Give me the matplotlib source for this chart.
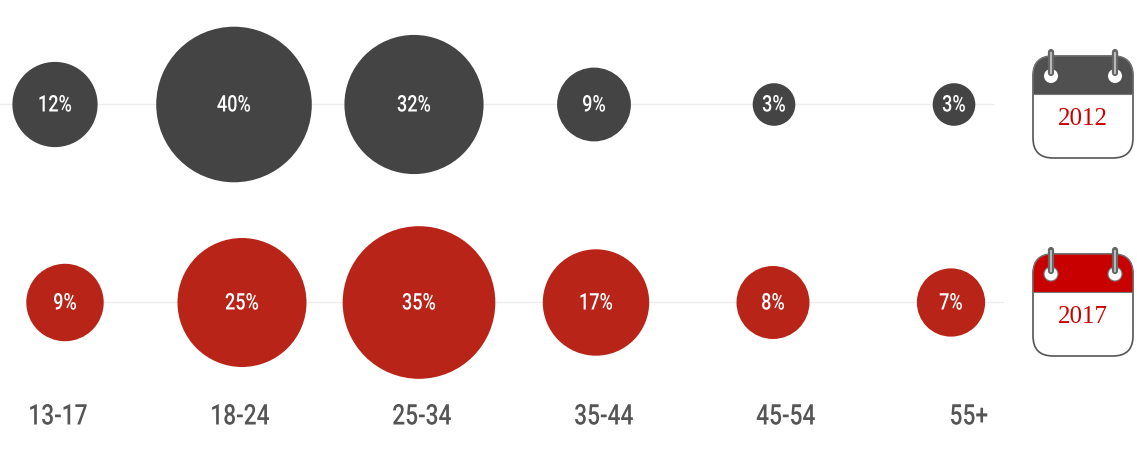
import matplotlib
matplotlib.use('Agg')
from matplotlib import pyplot as plt
from matplotlib.patches import Circle, FancyBboxPatch, PathPatch
from matplotlib.patheffects import AbstractPathEffect
from matplotlib.path import Path
from matplotlib.transforms import Affine2D

age_groups = ['13-17', '18-24', '25-34', '35-44', '45-54', '55+']
share_2012 = [12, 40, 32, 9, 3, 3]
share_2017 = [9, 25, 35, 17, 8, 7]

# layout, in pixels of the reference
W, H = 1137, 461
CENTERS_2012 = [55, 234, 414, 594, 774, 954]
CENTERS_2017 = [65, 242, 419, 596, 773, 951]
LABEL_X = [58, 240, 422, 604, 786, 969]


class Squeeze(AbstractPathEffect):
    # no condensed font installed, so narrow the glyphs about their centre
    def __init__(self, factor):
        super().__init__()
        self.factor = factor

    def draw_path(self, renderer, gc, tpath, affine, rgbFace=None):
        cx = (tpath.vertices[:, 0].min() + tpath.vertices[:, 0].max()) / 2
        narrow = Affine2D().translate(-cx, 0).scale(self.factor, 1).translate(cx, 0)
        renderer.draw_path(gc, tpath, narrow + affine, rgbFace)


fig = plt.figure(figsize=(W / 100, H / 100), dpi=100)
ax = fig.add_axes([0, 0, 1, 1])
ax.set_xlim(0, W)
ax.set_ylim(H, 0)
ax.axis('off')


def draw_row(values, centers, y, scale, color, line_from, line_to):
    ax.plot([line_from, line_to], [y - 0.5, y - 0.5], color='#ececec', lw=1, zorder=1)
    for v, x in zip(values, centers):
        ax.add_patch(Circle((x, y), scale * v ** 0.5, color=color, lw=0, zorder=2))
        ax.text(x, y + 0.5, f'{v}%', color='white', fontsize=16.5, family='Roboto', weight='medium',
                ha='center', va='center', zorder=3, path_effects=[Squeeze(0.79)])


def draw_calendar(top, color, year, ring_edge):
    left, right, bottom = 1033, 1133, top + 102
    head = top + 38.5
    r = 20
    # white page with rounded corners
    ax.add_patch(FancyBboxPatch((left + r, top + r), right - left - 2 * r, bottom - top - 2 * r,
                                boxstyle=f'round,pad={r},rounding_size={r}',
                                fc='white', ec='#555555', lw=1.2, zorder=2))
    # coloured head, rounded on top only
    verts = [(left, head), (left, top + r), (left, top), (left + r, top),
             (right - r, top), (right, top), (right, top + r), (right, head), (left, head)]
    codes = [Path.MOVETO, Path.LINETO, Path.CURVE3, Path.CURVE3,
             Path.LINETO, Path.CURVE3, Path.CURVE3, Path.LINETO, Path.CLOSEPOLY]
    ax.add_patch(PathPatch(Path(verts, codes), fc=color, ec='#777777', lw=0.8, zorder=3))
    for x in (1051, 1115):
        ax.add_patch(Circle((x, top + 20), 7, fc='white', ec=ring_edge, lw=0.8, zorder=4))
        ax.plot([x, x], [top - 4, top + 17], color='#666666', lw=4.5, solid_capstyle='round', zorder=5)
        ax.plot([x, x], [top - 3, top + 17], color='#bdbdbd', lw=1.4, zorder=6)
    ax.text((left + right) / 2, top + 63, year, color='#cc0000', fontsize=18,
            family='Liberation Serif', ha='center', va='center', zorder=4)


draw_row(share_2012, CENTERS_2012, 104.5, 12.3, '#444444', 0, 993)
draw_row(share_2017, CENTERS_2017, 302.5, 12.9, '#b92418', 28, 1003)

for label, x in zip(age_groups, LABEL_X):
    ax.text(x, 417, label, color='#555555', fontsize=20.5, family='Roboto', weight='medium', ha='center',
            va='center', path_effects=[Squeeze(0.8)])

draw_calendar(56, '#505050', '2012', 'none')
draw_calendar(254, '#c80000', '2017', '#777777')

fig.savefig('out.png', dpi=100)
